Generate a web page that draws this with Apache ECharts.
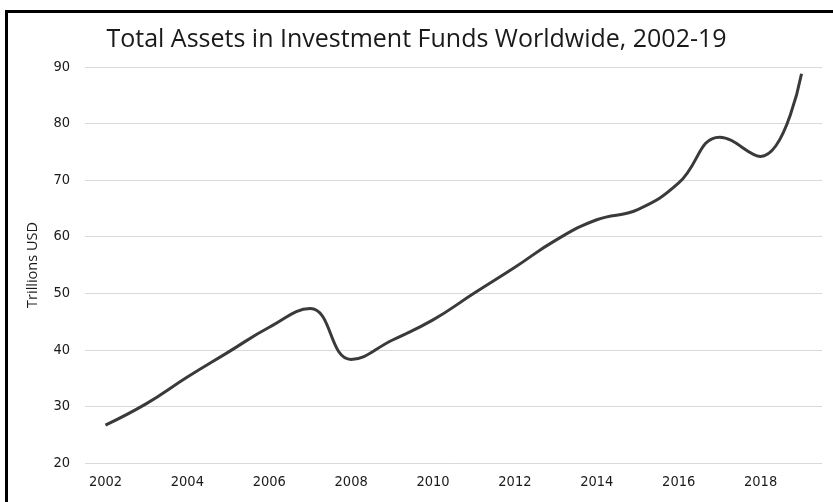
<!DOCTYPE html>
<html>
<head>
<meta charset="utf-8">
<script src="https://cdn.jsdelivr.net/npm/echarts@6/dist/echarts.min.js"></script>
<style>
  html, body { margin: 0; padding: 0; background: #fff; }
  #wrap { position: relative; width: 833px; height: 502px; overflow: hidden; }
  #frame { position: absolute; left: 5px; top: 10px; right: -10px; bottom: -10px;
           border-left: 3px solid #000; border-top: 3px solid #000; pointer-events: none; z-index: 2; }
  #chart { position: absolute; left: 0; top: 0; width: 833px; height: 502px; }
</style>
</head>
<body>
<div id="wrap">
  <div id="chart"></div>
  <div id="frame"></div>
</div>
<script>
// Years on the horizontal axis
const years = ['2002','2003','2004','2005','2006','2007','2008','2009','2010',
               '2011','2012','2013','2014','2015','2016','2017','2018','2019'];
// Total assets, trillions of US dollars
const assets = [26.7, 30.5, 35.2, 39.6, 44.0, 47.3, 38.3, 41.7, 45.3,
                50.0, 54.6, 59.4, 63.0, 64.8, 69.5, 77.6, 74.2, 88.8];
// Value axis range
const yTicks = [20, 30, 40, 50, 60, 70, 80, 90];

const tickFont = "'DejaVu Sans Condensed', 'Liberation Sans'";

const chart = echarts.init(document.getElementById('chart'), null, { renderer: 'canvas' });
chart.setOption({
  animation: false,
  backgroundColor: '#fff',
  title: {
    text: 'Total Assets in Investment Funds Worldwide, 2002-19',
    left: 'center',
    top: 22,
    textStyle: { fontFamily: 'Open Sans', fontWeight: 'normal', fontSize: 25, color: '#1a1a1a' }
  },
  grid: { left: 85, right: 11, top: 67, bottom: 39 },
  xAxis: {
    type: 'category',
    data: years,
    boundaryGap: true,
    axisLine: { show: false },
    axisTick: { show: false },
    axisLabel: {
      interval: 1,
      margin: 12,
      fontFamily: tickFont,
      fontSize: 14.5,
      color: '#1a1a1a'
    },
    splitLine: { show: false }
  },
  yAxis: {
    type: 'value',
    min: yTicks[0],
    max: yTicks[yTicks.length - 1],
    interval: 10,
    name: 'Trillions USD',
    nameLocation: 'middle',
    nameGap: 45,
    nameRotate: 90,
    nameTextStyle: { fontFamily: 'Open Sans', fontSize: 14.5, color: '#1a1a1a' },
    axisLine: { show: false },
    axisTick: { show: false },
    axisLabel: {
      margin: 15,
      fontFamily: tickFont,
      fontSize: 14.5,
      color: '#1a1a1a'
    },
    splitLine: { lineStyle: { color: '#d9d9d9', width: 1 } }
  },
  series: [{
    type: 'line',
    data: assets,
    smooth: 0.45,
    showSymbol: false,
    lineStyle: { color: '#3a3a3a', width: 3 }
  }]
});
</script>
</body>
</html>
